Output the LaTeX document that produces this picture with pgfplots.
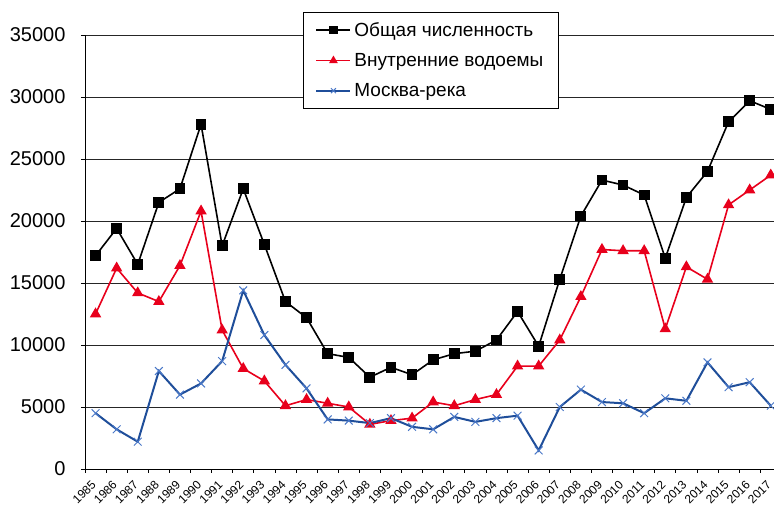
\documentclass[border=0pt]{standalone}
\usepackage{fontspec}
\setmainfont{Liberation Sans}
\usepackage{pgfplots}
\pgfplotsset{compat=1.18}
\definecolor{cred}{HTML}{E8001C}
\definecolor{cblue}{HTML}{1F4E9A}
\definecolor{cblue2}{HTML}{4A78C8}
\begin{document}
\begin{tikzpicture}
\begin{axis}[
  name=ax,
  scale only axis, width=690pt, height=434pt,
  xmin=-0.5, xmax=32.2, ymin=0, ymax=35000,
  axis x line*=bottom, axis y line*=left,
  axis line style={line width=0.9pt, black},
  ytick={0,5000,...,35000},
  ymajorgrids, grid style={black!85, line width=0.8pt},
  scaled y ticks=false,
  /pgf/number format/assume math mode=true,
  /pgf/number format/1000 sep={},
  yticklabel style={font=\fontsize{20}{24}\selectfont, xshift=-12pt},
  tick align=outside,
  major tick length=4pt, minor tick length=4pt,
  tick style={black, line width=0.8pt},
  xtick={0,...,32},
  major x tick style={draw=none},
  minor xtick={-0.5,0.5,...,31.5},
  xticklabel={\pgfmathtruncatemacro{\yr}{1985+\tick}\yr},
  xticklabel style={font=\fontsize{12}{13}\selectfont, xshift=-1pt, yshift=-9pt, rotate=45, anchor=east, inner sep=1pt},
  legend image code/.code={\draw[mark repeat=2,mark phase=2,#1, mark size=3.5pt] plot coordinates {(0pt,0pt) (17pt,0pt) (34pt,0pt)};},
  legend style={at={(0.316,1.053)}, anchor=north west, draw=black, line width=0.8pt, fill=white,
     font=\fontsize{19}{22}\selectfont, row sep=11.5pt, inner xsep=12pt, inner ysep=8pt,
     nodes={inner xsep=3pt}},
  legend cell align=left,
]
\addplot[black, line width=1.6pt, mark=square*, mark size=4.6pt, mark options={solid}] coordinates {
(0,17200)(1,19400)(2,16500)(3,21500)(4,22600)(5,27800)(6,18000)(7,22600)(8,18100)(9,13500)(10,12200)
(11,9300)(12,9000)(13,7400)(14,8200)(15,7600)(16,8800)(17,9300)(18,9500)(19,10400)(20,12700)(21,9900)
(22,15300)(23,20400)(24,23300)(25,22900)(26,22100)(27,17000)(28,21900)(29,24000)(30,28000)(31,29700)(32,29000)};
\addlegendentry{Общая численность}
\addplot[cred, line width=1.6pt, mark=triangle*, mark size=5pt, mark options={solid}] coordinates {
(0,12500)(1,16200)(2,14200)(3,13500)(4,16400)(5,20800)(6,11200)(7,8100)(8,7100)(9,5100)(10,5600)
(11,5300)(12,5000)(13,3600)(14,3900)(15,4100)(16,5400)(17,5100)(18,5600)(19,6000)(20,8300)(21,8300)
(22,10400)(23,13900)(24,17700)(25,17600)(26,17600)(27,11300)(28,16300)(29,15300)(30,21300)(31,22500)(32,23700)};
\addlegendentry{Внутренние водоемы}
\addplot[cblue, line width=2pt, mark=x, mark size=5.5pt, mark options={cblue2, line width=1pt, solid}] coordinates {
(0,4500)(1,3200)(2,2200)(3,7900)(4,6000)(5,6900)(6,8700)(7,14400)(8,10800)(9,8400)(10,6500)
(11,4000)(12,3900)(13,3700)(14,4100)(15,3400)(16,3200)(17,4200)(18,3800)(19,4100)(20,4300)(21,1500)
(22,5000)(23,6400)(24,5400)(25,5300)(26,4500)(27,5700)(28,5500)(29,8600)(30,6600)(31,7000)(32,5100)};
\addlegendentry{Москва-река}
\end{axis}
\pgfresetboundingbox
\path[use as bounding box] ([shift={(-85pt,-36pt)}]ax.south west) rectangle ([shift={(-1pt,35pt)}]ax.north east);
\end{tikzpicture}
\end{document}
